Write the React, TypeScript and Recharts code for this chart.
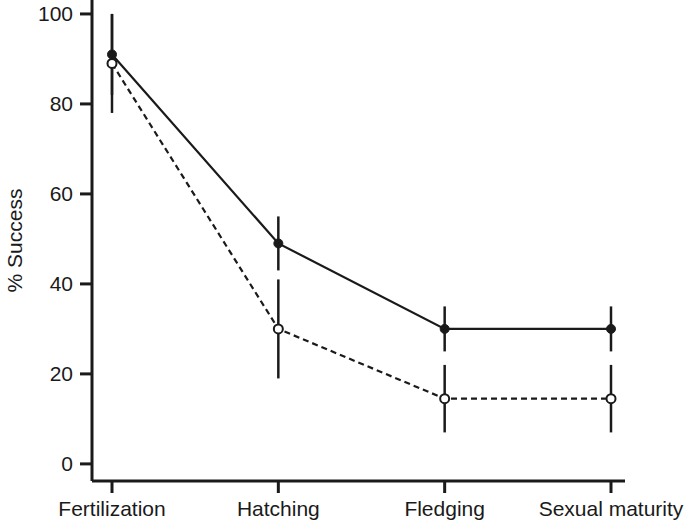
import React from "react";
import { LineChart, Line, XAxis, YAxis, ErrorBar } from "recharts";

const categories = ["Fertilization", "Hatching", "Fledging", "Sexual maturity"];
const solidValues = [91, 49, 30, 30];
const solidErrors = [9, 6, 5, 5];
const dashedValues = [89, 30, 14.5, 14.5];
const dashedErrors = [11, 11, 7.5, 7.5];
const yTicks = [0, 20, 40, 60, 80, 100];

const data = categories.map((c, i) => ({
    stage: c,
    solid: solidValues[i],
    solidErr: solidErrors[i],
    dashed: dashedValues[i],
    dashedErr: dashedErrors[i]
}));

const ink = "#1a1a1a";
const font = "'Liberation Sans', Arial, Helvetica, sans-serif";

export default function App() {
    return (
        <div style={{ position: "absolute", left: 0, top: 0, background: "#fff" }}>
            <LineChart
                width={685}
                height={522}
                data={data}
                margin={{ top: 0, right: 60, bottom: 0, left: 0 }}
            >
                <XAxis
                    dataKey="stage"
                    height={41}
                    padding={{ left: 20, right: 14 }}
                    stroke={ink}
                    strokeWidth={3}
                    tickSize={12}
                    tickMargin={8}
                    tick={{ fill: ink, fontSize: 21, fontFamily: font }}
                    interval={0}
                />
                <YAxis
                    width={92}
                    domain={[-3.8, 103.1]}
                    ticks={yTicks}
                    allowDataOverflow
                    stroke={ink}
                    strokeWidth={3}
                    tickSize={12}
                    tickMargin={7}
                    tick={{ fill: ink, fontSize: 21, fontFamily: font }}
                    label={{
                        value: "% Success",
                        angle: -90,
                        position: "insideLeft",
                        offset: 15,
                        style: { fill: ink, fontSize: 21, fontFamily: font, textAnchor: "middle" }
                    }}
                />
                <Line
                    dataKey="dashed"
                    stroke={ink}
                    strokeWidth={2.2}
                    strokeDasharray="6 4"
                    dot={{ r: 4.5, fill: "#fff", stroke: ink, strokeWidth: 2, strokeDasharray: "" }}
                    isAnimationActive={false}
                >
                    <ErrorBar dataKey="dashedErr" width={0} stroke={ink} strokeWidth={2.5} direction="y" />
                </Line>
                <Line
                    dataKey="solid"
                    stroke={ink}
                    strokeWidth={2.2}
                    dot={{ r: 4.5, fill: ink, stroke: ink, strokeWidth: 1 }}
                    isAnimationActive={false}
                >
                    <ErrorBar dataKey="solidErr" width={0} stroke={ink} strokeWidth={2.5} direction="y" />
                </Line>
            </LineChart>
        </div>
    );
}
